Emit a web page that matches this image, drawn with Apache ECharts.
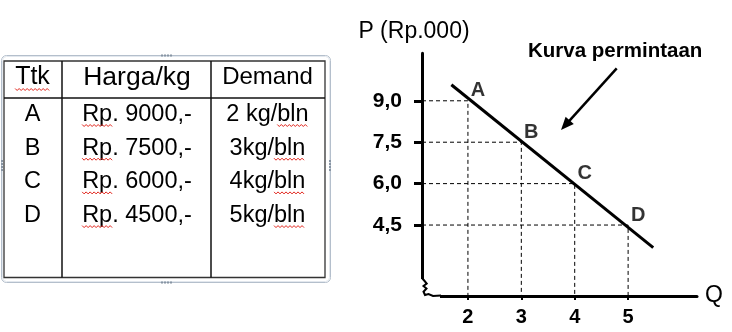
<!DOCTYPE html>
<html><head><meta charset="utf-8">
<script src="https://cdn.jsdelivr.net/npm/echarts@6/dist/echarts.min.js"></script>
<style>html,body{margin:0;padding:0;background:#fff}#c{width:732px;height:332px}</style>
</head><body><div id="c"></div>
<script>
// ---------- data ----------
const tableHeaders = ['Ttk', 'Harga/kg', 'Demand'];
const pointNames = ['A', 'B', 'C', 'D'];
const priceLabels = ['Rp. 9000,-', 'Rp. 7500,-', 'Rp. 6000,-', 'Rp. 4500,-'];
const demandLabels = ['2 kg/bln', '3kg/bln', '4kg/bln', '5kg/bln'];
const quantity = [2, 3, 4, 5];
const price = [9.0, 7.5, 6.0, 4.5];
const priceTickLabels = ['9,0', '7,5', '6,0', '4,5'];
const quantityTickLabels = ['2', '3', '4', '5'];
const curveStart = [1.69, 9.58];
const curveEnd = [5.47, 3.68];
const yAxisName = 'P (Rp.000)';
const xAxisName = 'Q';
const curveNote = 'Kurva permintaan';

// ---------- layout / style ----------
const FONT = '"Liberation Sans", Arial, sans-serif';
const X_MIN = 1.14, X_MAX = 6.29, Y_MIN = 1.93, Y_MAX = 10.72;
const GRID = { left: 422, top: 53.3, width: 275, height: 242.7 };

const chart = echarts.init(document.getElementById('c'), null, { renderer: 'canvas' });

// text measuring helper for the spell-check underlines
const mctx = document.createElement('canvas').getContext('2d');
function tw(text, size) { mctx.font = size + 'px ' + FONT; return mctx.measureText(text).width; }

const graphics = [];
function Z(el) { el.z = 100; graphics.push(el); return el; }
function wavy(x0, x1, y) {
  const pts = []; let up = true;
  for (let x = x0; x <= x1; x += 2) { pts.push([x, up ? y : y + 2]); up = !up; }
  Z({ type: 'polyline', shape: { points: pts }, style: { stroke: '#e2231a', lineWidth: 1, fill: null } });
}

// ---- table (left) ----
const T = { l: 4, r: 325, t: 61, b: 277.5, c1: 62, c2: 211, h: 98 };
const colX = [32.5, 137, 267.5];
const headY = 77.5;
const rowY0 = 114.5, rowStep = 33.7;
const headSize = [25, 26.5, 24];
const rowSize = 23.5;

// selection frame
Z({ type: 'rect', shape: { x: 1.5, y: 55.5, width: 329, height: 227, r: 5 }, style: { fill: null, stroke: '#b4bfcc', lineWidth: 1 } });
Z({ type: 'rect', shape: { x: 2.5, y: 56.5, width: 327, height: 225, r: 4 }, style: { fill: null, stroke: '#e3e8ee', lineWidth: 1 } });
[[161, 54.5], [164, 54.5], [167, 54.5], [170, 54.5], [161, 281.5], [164, 281.5], [167, 281.5], [170, 281.5]].forEach(p =>
  Z({ type: 'rect', shape: { x: p[0], y: p[1], width: 2, height: 2 }, style: { fill: '#8895a4' } }));
[[1, 160], [1, 163], [1, 166], [1, 169], [329, 160], [329, 163], [329, 166], [329, 169]].forEach(p =>
  Z({ type: 'rect', shape: { x: p[0], y: p[1], width: 2, height: 2 }, style: { fill: '#8895a4' } }));

// table borders
Z({ type: 'rect', shape: { x: T.l, y: T.t, width: T.r - T.l, height: T.b - T.t }, style: { fill: null, stroke: '#333', lineWidth: 1.3 } });
[T.c1, T.c2].forEach(x => Z({ type: 'line', shape: { x1: x, y1: T.t, x2: x, y2: T.b }, style: { stroke: '#111', lineWidth: 1.5 } }));
Z({ type: 'line', shape: { x1: T.l, y1: T.h, x2: T.r, y2: T.h }, style: { stroke: '#111', lineWidth: 1.5 } });

// header texts
tableHeaders.forEach((h, i) => Z({ type: 'text', x: colX[i], y: headY,
  style: { text: h, fontSize: headSize[i], fontFamily: FONT, fill: '#000', align: 'center', verticalAlign: 'middle' } }));
wavy(colX[0] - tw(tableHeaders[0], headSize[0]) / 2, colX[0] + tw(tableHeaders[0], headSize[0]) / 2, headY + 11);

// rows
pointNames.forEach((n, i) => {
  const y = rowY0 + i * rowStep;
  const cells = [n, priceLabels[i], demandLabels[i]];
  cells.forEach((c, j) => Z({ type: 'text', x: colX[j], y: y,
    style: { text: c, fontSize: rowSize, fontFamily: FONT, fill: '#000', align: 'center', verticalAlign: 'middle' } }));
  // spell-check squiggles under "Rp" and "bln"
  const pw = tw(priceLabels[i], rowSize), px0 = colX[1] - pw / 2;
  wavy(px0, px0 + tw('Rp', rowSize), y + 10);
  const dw = tw(demandLabels[i], rowSize), dx1 = colX[2] + dw / 2;
  wavy(dx1 - tw('bln', rowSize), dx1, y + 10);
});

// ---- axis break (squiggle) ----
Z({ type: 'rect', shape: { x: 418, y: 279, width: 22, height: 22 }, style: { fill: '#fff' } });
Z({ type: 'polyline', shape: { points: [[422, 278], [425, 281.5], [426.7, 283.5], [423.5, 286], [426.5, 288.5], [423.5, 291.7], [425, 295], [428.5, 294], [433, 296], [441, 295.5]] },
  style: { stroke: '#000', lineWidth: 2, fill: null } });

// ---- annotation ----
Z({ type: 'text', x: 528, y: 51.5, style: { text: curveNote, fontSize: 20.5, fontWeight: 'bold', fontFamily: FONT, fill: '#000', align: 'left', verticalAlign: 'middle' } });
(function () {
  const s = [616.7, 68.3], t = [561, 130];
  const dx = t[0] - s[0], dy = t[1] - s[1], L = Math.hypot(dx, dy), ux = dx / L, uy = dy / L;
  const hl = 13, hw = 5.5;
  const bx = t[0] - ux * hl, by = t[1] - uy * hl;
  Z({ type: 'line', shape: { x1: s[0], y1: s[1], x2: bx + ux * 2, y2: by + uy * 2 }, style: { stroke: '#000', lineWidth: 2.5 } });
  Z({ type: 'polygon', shape: { points: [[t[0], t[1]], [bx - uy * hw, by + ux * hw], [bx + uy * hw, by - ux * hw]] }, style: { fill: '#000' } });
})();

// ---- series ----
const guideSeries = quantity.map((q, i) => ({
  type: 'line', silent: true, symbol: 'none', z: 1,
  data: [[X_MIN, price[i]], [q, price[i]], [q, Y_MIN]],
  lineStyle: { color: '#000', width: 1, type: [4, 3] }
}));

const option = {
  animation: false,
  backgroundColor: '#fff',
  grid: GRID,
  xAxis: {
    type: 'value', min: X_MIN, max: X_MAX,
    splitLine: { show: false },
    axisLine: { show: true, onZero: false, lineStyle: { color: '#000', width: 3 } },
    axisTick: { show: true, customValues: quantity, length: 4, lineStyle: { color: '#000', width: 2 } },
    axisLabel: { customValues: quantity, formatter: v => quantityTickLabels[quantity.indexOf(v)],
      margin: 11, fontSize: 20, fontWeight: 'bold', color: '#000', fontFamily: FONT },
    name: xAxisName, nameLocation: 'end', nameGap: 8,
    nameTextStyle: { fontSize: 23, color: '#000', fontFamily: FONT, verticalAlign: 'middle' }
  },
  yAxis: {
    type: 'value', min: Y_MIN, max: Y_MAX,
    splitLine: { show: false },
    axisLine: { show: true, onZero: false, lineStyle: { color: '#000', width: 3 } },
    axisTick: { show: true, customValues: price, length: 8, lineStyle: { color: '#000', width: 3 } },
    axisLabel: { customValues: price, formatter: v => priceTickLabels[price.indexOf(v)],
      margin: 20, fontSize: 21, fontWeight: 'bold', color: '#000', fontFamily: FONT },
    name: yAxisName, nameLocation: 'end', nameGap: 10,
    nameTextStyle: { fontSize: 23, color: '#000', fontFamily: FONT, padding: [0, 16, 0, 0] }
  },
  series: [
    ...guideSeries,
    { type: 'line', silent: true, symbol: 'none', z: 3, data: [curveStart, curveEnd],
      lineStyle: { color: '#000', width: 3 } },
    { type: 'scatter', silent: true, symbolSize: 2, z: 4,
      data: quantity.map((q, i) => [q, price[i]]),
      itemStyle: { color: 'rgba(0,0,0,0)' },
      label: { show: true, formatter: p => pointNames[p.dataIndex], position: 'inside', offset: [10, -10],
        fontSize: 20, fontWeight: 'bold', color: '#000', fontFamily: FONT } }
  ],
  graphic: { elements: graphics }
};
chart.setOption(option);
</script>
</body></html>
